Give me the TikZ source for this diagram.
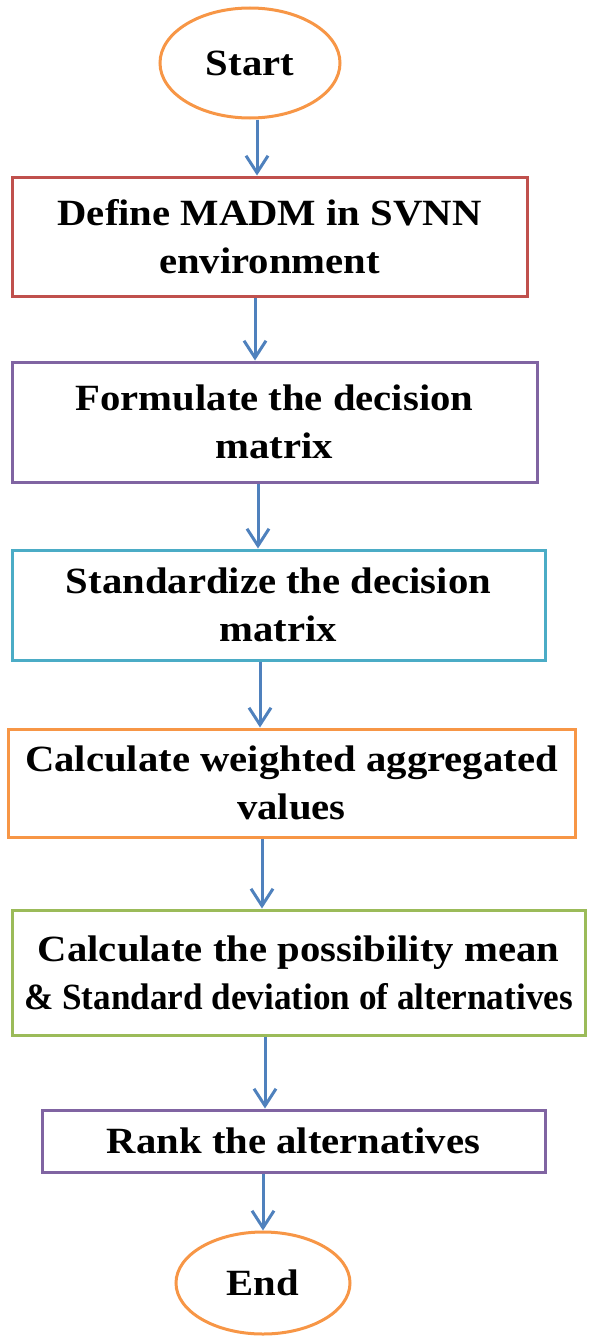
\documentclass[tikz,border=0pt]{standalone}
\usepackage{fontspec}
\setmainfont{Liberation Serif}[FakeStretch=1.1]
\newfontfamily\narrowfont{Liberation Serif}[FakeStretch=0.95]
\usetikzlibrary{shapes,positioning,arrows.meta}
\definecolor{boxred}{RGB}{192,80,77}
\definecolor{boxpurple}{RGB}{128,100,162}
\definecolor{boxcyan}{RGB}{75,172,198}
\definecolor{boxorange}{RGB}{247,150,70}
\definecolor{boxgreen}{RGB}{155,187,89}
\definecolor{flowblue}{RGB}{79,129,189}

\begin{document}
\begin{tikzpicture}[x=1pt,y=-1pt,
      stepbox/.style={draw,rectangle,line width=3pt,align=center,inner sep=0pt,
        font=\fontsize{37}{48}\selectfont\bfseries},
      terminal/.style={draw=boxorange,ellipse,line width=3pt,inner sep=0pt,
        font=\fontsize{37}{48}\selectfont\bfseries},
      flow/.style={draw=flowblue,line width=3pt,-{Straight Barb[length=17pt,width=22pt,line width=3pt]}}
      ]
      \useasboundingbox (0,0) rectangle (590,1341);
      \node[terminal,minimum width=180pt,minimum height=110pt] (start) at (250,63) {Start};
      \node[stepbox,draw=boxred,minimum width=515pt,minimum height=119pt] (define) at (269.5,236.5) {Define MADM in SVNN\\environment};
      \node[stepbox,draw=boxpurple,minimum width=525pt,minimum height=120pt] (formulate) at (274.5,422) {Formulate the decision\\matrix};
      \node[stepbox,draw=boxcyan,minimum width=533pt,minimum height=110pt] (standard) at (278.5,605) {Standardize the decision\\matrix};
      \node[stepbox,draw=boxorange,minimum width=567pt,minimum height=108pt] (weighted) at (291.5,783) {Calculate weighted aggregated\\values};
      \node[stepbox,draw=boxgreen,minimum width=573pt,minimum height=125pt] (possib) at (298.5,972.5) {Calculate the possibility mean\\{\narrowfont\& Standard deviation of alternatives}};
      \node[stepbox,draw=boxpurple,minimum width=503pt,minimum height=62pt] (rank) at (293.5,1141) {Rank the alternatives};
      \node[terminal,minimum width=174pt,minimum height=102pt] (end) at (263,1283) {End};

      \draw[flow] (start.south -| 257,0) -- (define.north -| 257,0);
      \draw[flow] (define.south -| 255,0) -- (formulate.north -| 255,0);
      \draw[flow] (formulate.south -| 258,0) -- (standard.north -| 258,0);
      \draw[flow] (standard.south -| 260,0) -- (weighted.north -| 260,0);
      \draw[flow] (weighted.south -| 262,0) -- (possib.north -| 262,0);
      \draw[flow] (possib.south -| 265,0) -- (rank.north -| 265,0);
      \draw[flow] (rank.south -| 263,0) -- (end.north);
    \end{tikzpicture}
\end{document}
